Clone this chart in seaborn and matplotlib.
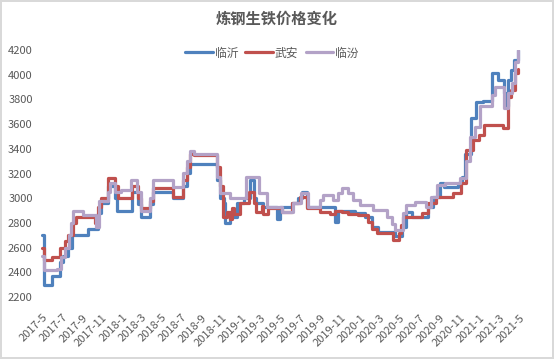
import pandas as pd
import numpy as np
import matplotlib
matplotlib.use("Agg")
import matplotlib.pyplot as plt
import matplotlib.dates as mdates
import seaborn as sns

# === 数据 (价格变动点) ===
ly_dates = ["2017-05-01", "2017-05-06", "2017-06-01", "2017-06-25", "2017-07-04", "2017-07-20",
            "2017-08-02", "2017-09-19", "2017-10-20", "2017-10-28", "2017-11-20", "2017-12-12",
            "2017-12-18", "2018-02-01", "2018-02-20", "2018-03-01", "2018-03-28", "2018-04-06",
            "2018-06-06", "2018-07-07", "2018-07-20", "2018-07-28", "2018-10-19", "2018-10-28",
            "2018-11-08", "2018-11-13", "2018-11-28", "2018-12-07", "2018-12-20", "2019-01-10",
            "2019-01-28", "2019-02-08", "2019-02-15", "2019-03-10", "2019-04-20", "2019-05-01",
            "2019-06-06", "2019-06-25", "2019-07-06", "2019-07-22", "2019-10-15", "2019-10-25",
            "2019-12-15", "2020-01-15", "2020-02-05", "2020-02-25", "2020-04-16", "2020-05-08",
            "2020-05-20", "2020-06-07", "2020-07-26", "2020-08-11", "2020-09-01", "2020-09-14",
            "2020-10-26", "2020-11-07", "2020-11-15", "2020-12-05", "2020-12-20", "2021-01-12",
            "2021-02-07", "2021-02-26", "2021-03-15", "2021-03-22", "2021-03-28", "2021-04-06",
            "2021-04-15", "2021-04-28"]
ly_vals = [2700, 2300, 2370, 2480, 2530, 2600,
           2700, 2750, 2880, 2960, 3100, 3000,
           2900, 3050, 2950, 2850, 2950, 3050,
           3000, 3100, 3200, 3280, 3150, 3000,
           2960, 2800, 2890, 2850, 2960, 3000,
           3150, 3000, 2960, 2930, 2830, 2930,
           2960, 3000, 3050, 2930, 2810, 2900,
           2880, 2850, 2770, 2730, 2690, 2770,
           2890, 2850, 2930, 3010, 3120, 3090,
           3120, 3170, 3360, 3650, 3780, 3790,
           4010, 3960, 3850, 3750, 3960, 4040,
           4120, 4200]

wa_dates = ["2017-05-01", "2017-05-08", "2017-06-01", "2017-06-25", "2017-07-10", "2017-07-20",
            "2017-08-04", "2017-08-12", "2017-10-10", "2017-10-20", "2017-10-30", "2017-11-20",
            "2017-12-12", "2017-12-20", "2018-02-01", "2018-02-20", "2018-03-01", "2018-03-28",
            "2018-04-06", "2018-06-06", "2018-07-07", "2018-07-20", "2018-07-28", "2018-08-10",
            "2018-10-19", "2018-10-28", "2018-11-05", "2018-11-20", "2018-11-28", "2018-12-03",
            "2018-12-10", "2018-12-28", "2019-01-25", "2019-02-08", "2019-02-15", "2019-03-05",
            "2019-03-10", "2019-03-25", "2019-05-06", "2019-06-06", "2019-07-01", "2019-07-22",
            "2019-08-30", "2019-09-30", "2019-10-15", "2019-11-06", "2019-11-25", "2019-12-25",
            "2020-01-25", "2020-02-06", "2020-02-20", "2020-04-10", "2020-04-28", "2020-05-05",
            "2020-05-12", "2020-07-08", "2020-07-26", "2020-08-20", "2020-10-10", "2020-11-05",
            "2020-11-20", "2020-12-10", "2020-12-28", "2021-01-15", "2021-03-13", "2021-03-28",
            "2021-04-05", "2021-04-18", "2021-04-28"]
wa_vals = [2600, 2500, 2520, 2600, 2650, 2700,
           2800, 2850, 2800, 2930, 3000, 3160,
           3100, 3000, 3100, 3000, 2920, 2980,
           3080, 3010, 3150, 3250, 3360, 3350,
           3250, 3100, 2850, 2890, 2830, 2920,
           2870, 2960, 3050, 2960, 2890, 2940,
           2870, 2920, 2890, 2960, 3010, 2920,
           2890, 2870, 2900, 2890, 2870, 2860,
           2810, 2750, 2720, 2660, 2720, 2780,
           2850, 2880, 2960, 3010, 3040, 3120,
           3390, 3470, 3510, 3590, 3570, 3820,
           3880, 4010, 4050]

lf_dates = ["2017-05-01", "2017-05-07", "2017-06-15", "2017-06-28", "2017-07-12", "2017-07-24",
            "2017-07-28", "2017-08-04", "2017-09-03", "2017-10-12", "2017-10-22", "2017-11-18",
            "2017-11-25", "2017-12-12", "2017-12-28", "2018-01-28", "2018-02-16", "2018-03-01",
            "2018-03-28", "2018-04-06", "2018-06-06", "2018-07-07", "2018-07-20", "2018-07-28",
            "2018-08-10", "2018-10-19", "2018-10-28", "2018-11-28", "2019-01-15", "2019-02-25",
            "2019-03-20", "2019-05-06", "2019-06-08", "2019-07-04", "2019-07-24", "2019-08-30",
            "2019-09-10", "2019-10-08", "2019-10-26", "2019-11-06", "2019-11-25", "2019-12-10",
            "2019-12-31", "2020-02-09", "2020-03-23", "2020-04-08", "2020-04-16", "2020-05-12",
            "2020-05-20", "2020-06-16", "2020-07-20", "2020-08-04", "2020-08-23", "2020-09-16",
            "2020-11-02", "2020-11-20", "2020-12-02", "2020-12-17", "2021-01-01", "2021-02-07",
            "2021-02-17", "2021-03-16", "2021-03-28", "2021-04-08", "2021-04-20", "2021-04-28"]
lf_vals = [2530, 2420, 2430, 2520, 2600, 2700,
           2800, 2900, 2860, 2770, 2980, 3050,
           3120, 3050, 3070, 3150, 3050, 2900,
           3000, 3150, 3090, 3200, 3300, 3380,
           3360, 3170, 3040, 3000, 3170, 3040,
           2930, 2890, 2960, 3040, 2930, 2985,
           3025, 2985, 3040, 3080, 3040, 2985,
           2944, 2904, 2850, 2790, 2742, 2880,
           2944, 2970, 2931, 3012, 3107, 3120,
           3163, 3300, 3498, 3579, 3743, 3836,
           3903, 3730, 3850, 3930, 4100, 4200]

series = ["临沂", "武安", "临汾"]
colors = {"临沂": "#4F81BD", "武安": "#C0504D", "临汾": "#B3A2C7"}

df = pd.concat([
    pd.DataFrame({"日期": pd.to_datetime(ly_dates), "价格": ly_vals, "地区": "临沂"}),
    pd.DataFrame({"日期": pd.to_datetime(wa_dates), "价格": wa_vals, "地区": "武安"}),
    pd.DataFrame({"日期": pd.to_datetime(lf_dates), "价格": lf_vals, "地区": "临汾"}),
], ignore_index=True)

sns.set_theme(style="white")
plt.rcParams["font.family"] = ["Noto Sans CJK SC", "DejaVu Sans"]

fig = plt.figure(figsize=(5.54, 3.59), dpi=100)
fig.patch.set_edgecolor("#D9D9D9")
fig.patch.set_linewidth(1.5)
ax = fig.add_axes([41 / 554, 62 / 359, 480 / 554, 247 / 359])

sns.lineplot(data=df, x="日期", y="价格", hue="地区", hue_order=series,
             palette=colors, drawstyle="steps-post", linewidth=2.3, ax=ax,
             estimator=None, legend=False)

ax.set_ylim(2200, 4200)
ax.set_yticks(np.arange(2200, 4201, 200))
ax.set_xlim(pd.Timestamp("2017-04-28"), pd.Timestamp("2021-05-07"))
ax.xaxis.set_major_locator(mdates.MonthLocator(bymonth=[1, 3, 5, 7, 9, 11]))
ax.xaxis.set_major_formatter(plt.FuncFormatter(
    lambda v, p: f"{mdates.num2date(v).year}-{mdates.num2date(v).month}"))
ax.set_xlabel("")
ax.set_ylabel("")
for s in ax.spines.values():
    s.set_visible(False)
ax.tick_params(axis="y", labelsize=8, colors="#595959", pad=6, length=0)
ax.tick_params(axis="x", labelsize=8, colors="#595959", pad=11, length=0)
for lab in ax.get_xticklabels():
    lab.set_rotation(45)
    lab.set_ha("right")
    lab.set_va("top")
    lab.set_rotation_mode("anchor")

fig.text(0.5, 1 - 19 / 359, "炼钢生铁价格变化", ha="center", va="center",
         fontsize=11, fontweight="bold", color="#595959")

handles = [plt.Line2D([], [], color=colors[s], lw=2.3) for s in series]
fig.legend(handles, series, loc="center", bbox_to_anchor=(272 / 554, 1 - 53 / 359),
           ncol=3, frameon=False, fontsize=8.5, handlelength=2.3, handletextpad=0.2,
           columnspacing=0.6, labelcolor="#595959")

fig.savefig("out.png", dpi=100, edgecolor=fig.get_edgecolor())
